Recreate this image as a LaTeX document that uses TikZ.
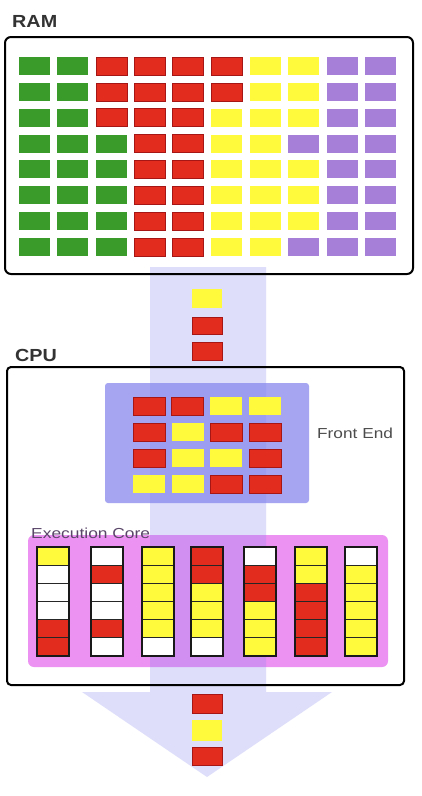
\documentclass[tikz,border=0pt]{standalone}
\usepackage{fontspec}
\setmainfont{Liberation Sans}
\begin{document}
\begin{tikzpicture}[x=1pt,y=-1pt]
\definecolor{cg}{RGB}{58,155,42}
\definecolor{cr}{RGB}{226,44,30}
\definecolor{crd}{RGB}{165,22,20}
\definecolor{cy}{RGB}{255,250,60}
\definecolor{cp}{RGB}{166,128,216}
\definecolor{cfe}{RGB}{165,165,242}
\definecolor{cex}{RGB}{236,146,242}
\definecolor{cband}{RGB}{135,135,240}
\tikzset{
  sqG/.style={fill=cg},
  sqR/.style={fill=cr,draw=crd,line width=0.7pt},
  sqY/.style={fill=cy},
  sqP/.style={fill=cp},
  sqW/.style={fill=white},
  cellbox/.style={draw=black!85,line width=0.8pt},
  colframe/.style={draw=black!90,line width=1.4pt},
  boxframe/.style={draw=black,line width=2pt},
  biglbl/.style={anchor=base west,inner sep=0pt,font=\bfseries\fontsize{17.5}{20}\selectfont,text=black!80},
  smalllbl/.style={anchor=base west,inner sep=0pt,font=\fontsize{14.5}{16}\selectfont},
}
\useasboundingbox (0,0) rectangle (422,796);
\fill[white] (0,0) rectangle (422,796);

% box fills
\fill[white,rounded corners=6pt] (5,37) rectangle (413,274);
\fill[white,rounded corners=4pt] (7,367) rectangle (404,685);
\fill[cfe,rounded corners=3pt] (105,383) rectangle (309,503);
\fill[cex,rounded corners=6pt] (28,535) rectangle (388,667);

% band / arrow
\fill[cband,fill opacity=0.27] (150,267) -- (266,267) -- (266,692) -- (332,692) -- (207,777) -- (82,692) -- (150,692) -- cycle;

% RAM grid
\foreach \row [count=\j from 0] in {
  {G,G,R,R,R,R,Y,Y,P,P},
  {G,G,R,R,R,R,Y,Y,P,P},
  {G,G,R,R,R,Y,Y,Y,P,P},
  {G,G,G,R,R,Y,Y,P,P,P},
  {G,G,G,R,R,Y,Y,Y,P,P},
  {G,G,G,R,R,Y,Y,Y,P,P},
  {G,G,G,R,R,Y,Y,Y,P,P},
  {G,G,G,R,R,Y,Y,P,P,P}} {
  \foreach \c [count=\i from 0] in \row {
    \path[sq\c] ({19+38.45*\i},{57+25.86*\j}) rectangle ++(31,18);
  }
}

% transit squares top
\path[sqY] (192,289) rectangle ++(30,19);
\path[sqR] (192,317) rectangle ++(30,17);
\path[sqR] (192,342) rectangle ++(30,18);

% front end grid
\foreach \row [count=\j from 0] in {
  {R,R,Y,Y},
  {R,Y,R,R},
  {R,Y,Y,R},
  {Y,Y,R,R}} {
  \foreach \c [count=\i from 0] in \row {
    \path[sq\c] ({133+38.7*\i},{397+26*\j}) rectangle ++(32,18);
  }
}

% execution core columns
\foreach \xl/\col in {
  37/{Y,W,W,W,R,R},
  91/{W,R,W,W,R,W},
  142/{Y,Y,Y,Y,Y,W},
  191/{R,R,Y,Y,Y,W},
  244/{W,R,R,Y,Y,Y},
  295/{Y,Y,R,R,R,R},
  345/{W,Y,Y,Y,Y,Y}} {
  \foreach \c [count=\k from 0] in \col {
    \path[sq\c,cellbox] (\xl,{547+18.17*\k}) rectangle ++(32,18.17);
  }
  \path[colframe] (\xl,547) rectangle ++(32,109);
}

% transit squares bottom
\path[sqR] (192,694) rectangle ++(30,19);
\path[sqY] (192,720) rectangle ++(30,21);
\path[sqR] (192,747) rectangle ++(30,18);

% box borders
\path[boxframe,rounded corners=6pt] (5,37) rectangle (413,274);
\path[boxframe,rounded corners=4pt] (7,367) rectangle (404,685);

% labels
\node[biglbl] (ramlbl) at (12,27) {\scalebox{1.13}[1]{RAM}};
\node[biglbl] (cpulbl) at (15,361) {\scalebox{1.13}[1]{CPU}};
\node[smalllbl,text=black!70] (felbl) at (317,438) {\scalebox{1.19}[1]{Front End}};
\node[smalllbl,text={rgb,255:red,90;green,70;blue,105}] (exlbl) at (31,538) {\scalebox{1.2}[1]{Execution Core}};
\end{tikzpicture}
\end{document}
